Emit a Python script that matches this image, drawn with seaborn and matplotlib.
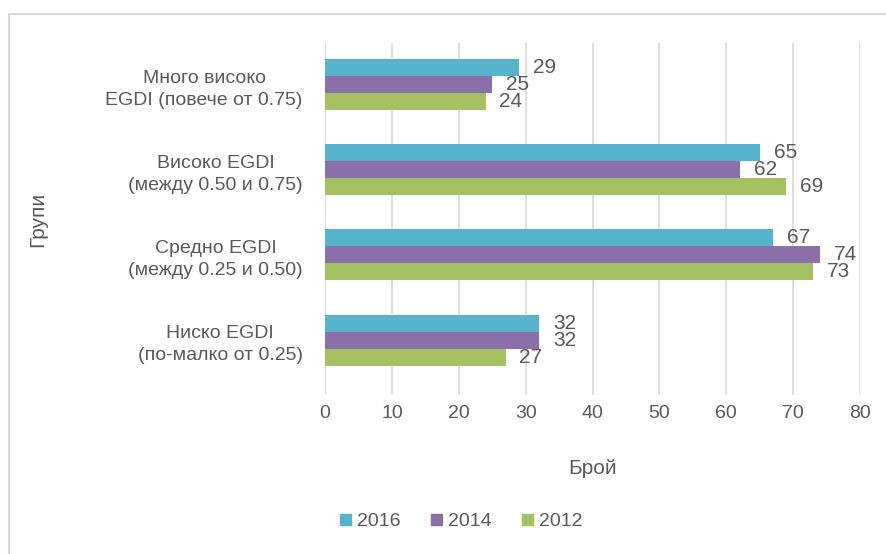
import matplotlib
matplotlib.use("Agg")
import matplotlib.pyplot as plt
import matplotlib.patches as mpatches
import seaborn as sns
import pandas as pd

categories = [
    "Много високо\nEGDI (повече от 0.75)",
    "Високо EGDI\n(между 0.50 и 0.75)",
    "Средно EGDI\n(между 0.25 и 0.50)",
    "Ниско EGDI\n(по-малко от 0.25)",
]
series = ["2016", "2014", "2012"]
values_2016 = [29, 65, 67, 32]
values_2014 = [25, 62, 74, 32]
values_2012 = [24, 69, 73, 27]
x_ticks = [0, 10, 20, 30, 40, 50, 60, 70, 80]
colors = ["#55B3CC", "#8A6FA8", "#A3C161"]

rows = []
for s, vals in zip(series, [values_2016, values_2014, values_2012]):
    for c, v in zip(categories, vals):
        rows.append({"Група": c, "Година": s, "Брой": v})
df = pd.DataFrame(rows)

sns.set_theme(style="white")
plt.rcParams["font.family"] = ["Liberation Sans", "DejaVu Sans"]
text_color = "#595959"
fs = 14

fig = plt.figure(figsize=(8.87, 5.54), dpi=100)
ax = fig.add_axes([0.3664, 0.287, 0.6032, 0.6354])

sns.barplot(data=df, y="Група", x="Брой", hue="Година", hue_order=series,
            order=categories, palette=colors, orient="h", width=0.6,
            ax=ax, legend=False, saturation=1, linewidth=0)

for cont in ax.containers:
    ax.bar_label(cont, padding=10, fontsize=fs + 1, color=text_color)

ax.set_xlim(0, 80)
ax.set_xticks(x_ticks)
ax.set_ylim(3.647, -0.494)
ax.grid(axis="x", color="#D9D9D9", linewidth=1.2)
ax.grid(axis="y", visible=False)
ax.set_axisbelow(True)
for sp in ax.spines.values():
    sp.set_visible(False)
ax.tick_params(axis="x", length=0, pad=7, labelsize=fs, labelcolor=text_color)
ax.tick_params(axis="y", length=0, pad=16, labelsize=fs, labelcolor=text_color)
for lab in ax.get_yticklabels():
    lab.set_multialignment("center")
    lab.set_linespacing(1.35)
ax.set_xlabel("Брой", fontsize=fs + 1, color=text_color, labelpad=27)
ax.set_ylabel("Групи", fontsize=fs + 1, color=text_color, labelpad=42)

handles = [mpatches.Patch(color=c, label=s) for c, s in zip(colors, series)]
leg = fig.legend(handles=handles, loc="center", bbox_to_anchor=(0.52, 0.058), ncol=3,
                 frameon=False, fontsize=fs, handlelength=0.55, handleheight=0.55,
                 handletextpad=0.3, columnspacing=1.6)
for t in leg.get_texts():
    t.set_color(text_color)

border = mpatches.Rectangle((9 / 887, -0.05), 1.0, 1 - 14 / 554 + 0.05,
                            transform=fig.transFigure, fill=False,
                            edgecolor="#D9D9D9", linewidth=1.5)
fig.patches.append(border)

fig.savefig("out.png", dpi=100)
